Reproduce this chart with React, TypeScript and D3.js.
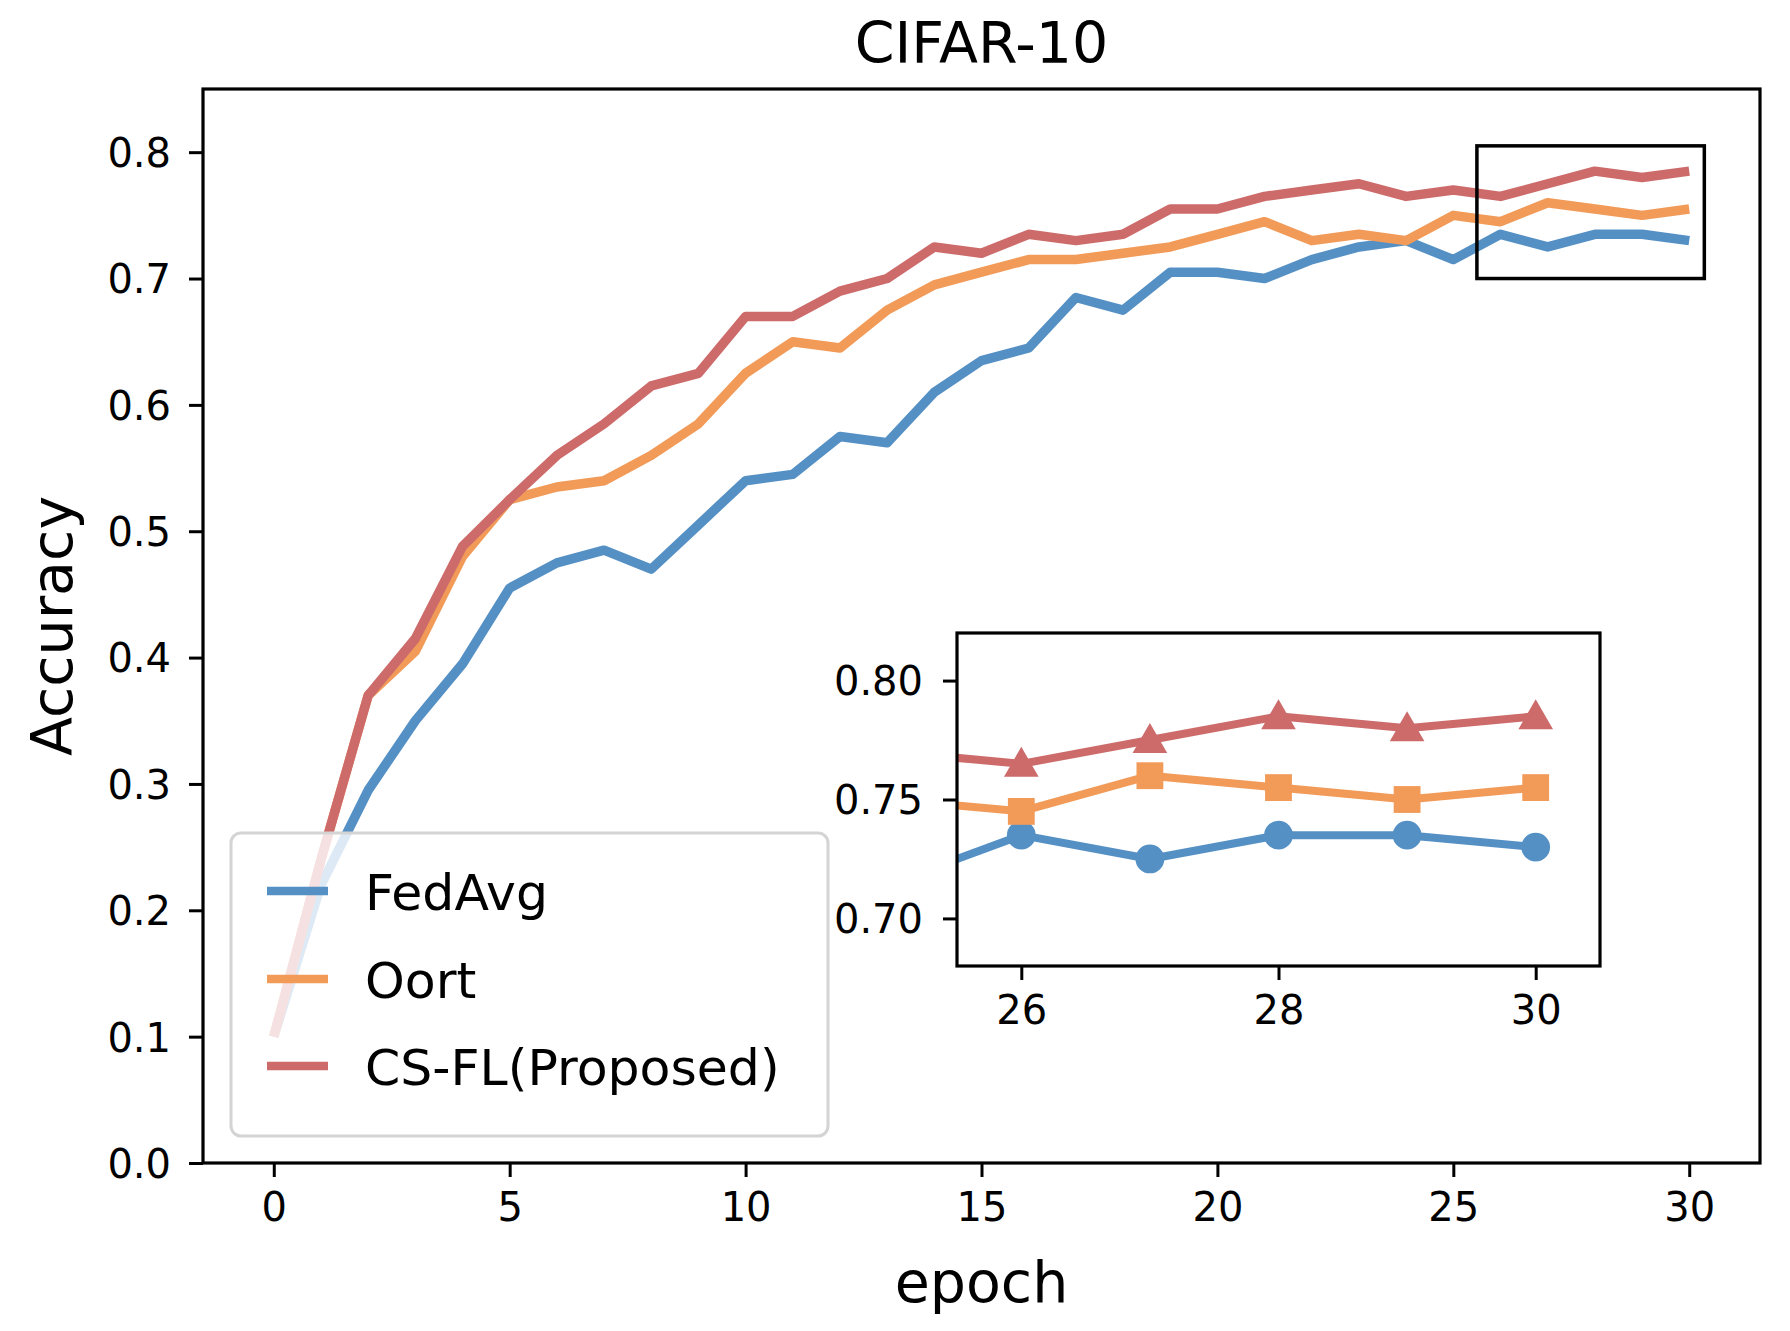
import { useEffect, useRef } from "react";
import * as d3 from "d3";

const epochs = [0, 1, 2, 3, 4, 5, 6, 7, 8, 9, 10, 11, 12, 13, 14, 15, 16, 17, 18, 19, 20, 21, 22, 23, 24, 25, 26, 27, 28, 29, 30];

const fedAvg = [0.10, 0.22, 0.295, 0.35, 0.395, 0.455, 0.475, 0.485, 0.47, 0.505, 0.54, 0.545, 0.575, 0.57, 0.61, 0.635, 0.645, 0.685, 0.675, 0.705, 0.705, 0.70, 0.715, 0.725, 0.73, 0.715, 0.735, 0.725, 0.735, 0.735, 0.73];
const oort = [0.10, 0.24, 0.37, 0.405, 0.48, 0.525, 0.535, 0.54, 0.56, 0.585, 0.625, 0.65, 0.645, 0.675, 0.695, 0.705, 0.715, 0.715, 0.72, 0.725, 0.735, 0.745, 0.73, 0.735, 0.73, 0.75, 0.745, 0.76, 0.755, 0.75, 0.755];
const csfl = [0.10, 0.24, 0.37, 0.415, 0.488, 0.525, 0.56, 0.585, 0.615, 0.625, 0.67, 0.67, 0.69, 0.70, 0.725, 0.72, 0.735, 0.73, 0.735, 0.755, 0.755, 0.765, 0.77, 0.775, 0.765, 0.77, 0.765, 0.775, 0.785, 0.78, 0.785];

const seriesNames = ["FedAvg", "Oort", "CS-FL(Proposed)"];
const seriesColors = ["#5590c5", "#f29a58", "#cd6b6b"];
const seriesMarkers = ["circle", "square", "triangle"];

const xTicks = [0, 5, 10, 15, 20, 25, 30];
const yTicks = [0.0, 0.1, 0.2, 0.3, 0.4, 0.5, 0.6, 0.7, 0.8];
const insetXTicks = [26, 28, 30];
const insetYTicks = [0.70, 0.75, 0.80];

const xDomain = [-1.5, 31.5];
const yDomain = [0, 0.85];
const insetXDomain = [25.5, 30.5];
const insetYDomain = [0.68, 0.82];
const zoomBoxX = [25.5, 30.32];
const zoomBoxY = [0.70, 0.805];

const title = "CIFAR-10";
const xLabel = "epoch";
const yLabel = "Accuracy";

const W = 1790, H = 1331;
const FONT = "DejaVu Sans, sans-serif";

export default function App() {
  const ref = useRef<SVGSVGElement>(null);

  useEffect(() => {
    document.body.style.margin = "0";
    document.body.style.overflow = "hidden";
    const svg = d3.select(ref.current);
    svg.selectAll("*").remove();

    const data = [fedAvg, oort, csfl];

    // main axes box
    const m = { left: 203, right: 1760, top: 89, bottom: 1163 };
    const x = d3.scaleLinear().domain(xDomain).range([m.left, m.right]);
    const y = d3.scaleLinear().domain(yDomain).range([m.bottom, m.top]);

    svg.append("rect").attr("width", W).attr("height", H).attr("fill", "#fff");

    const defs = svg.append("defs");
    defs.append("clipPath").attr("id", "mainClip")
      .append("rect").attr("x", m.left).attr("y", m.top)
      .attr("width", m.right - m.left).attr("height", m.bottom - m.top);

    const line = (sx: any, sy: any) => d3.line<number>()
      .x((_, i) => sx(epochs[i]))
      .y((d) => sy(d));

    const gLines = svg.append("g").attr("clip-path", "url(#mainClip)");
    data.forEach((s, k) => {
      gLines.append("path")
        .attr("d", line(x, y)(s))
        .attr("fill", "none")
        .attr("stroke", seriesColors[k])
        .attr("stroke-width", 9.5)
        .attr("stroke-linejoin", "round");
    });

    // zoom box
    svg.append("rect")
      .attr("x", x(zoomBoxX[0])).attr("y", y(zoomBoxY[1]))
      .attr("width", x(zoomBoxX[1]) - x(zoomBoxX[0]))
      .attr("height", y(zoomBoxY[0]) - y(zoomBoxY[1]))
      .attr("fill", "none").attr("stroke", "#000").attr("stroke-width", 3.5);

    // main axes
    const xAxis = svg.append("g").attr("transform", `translate(0,${m.bottom})`)
      .call(d3.axisBottom(x).tickValues(xTicks).tickSize(14).tickPadding(16).tickFormat(d3.format("d")));
    const yAxis = svg.append("g").attr("transform", `translate(${m.left},0)`)
      .call(d3.axisLeft(y).tickValues(yTicks).tickSize(14).tickPadding(18).tickFormat(d3.format(".1f")));
    [xAxis, yAxis].forEach((g) => {
      g.select(".domain").remove();
      g.selectAll(".tick line").attr("stroke", "#000").attr("stroke-width", 3);
      g.selectAll(".tick text").attr("font-family", FONT).attr("font-size", 40).attr("fill", "#000");
    });
    yAxis.selectAll(".tick text").attr("dy", "0.36em");
    xAxis.selectAll(".tick text").attr("dy", "0.71em");

    svg.append("rect")
      .attr("x", m.left).attr("y", m.top)
      .attr("width", m.right - m.left).attr("height", m.bottom - m.top)
      .attr("fill", "none").attr("stroke", "#000").attr("stroke-width", 3.2);

    // legend
    const lg = svg.append("g");
    lg.append("rect")
      .attr("x", 231).attr("y", 833).attr("width", 597).attr("height", 303)
      .attr("rx", 10)
      .attr("fill", "#fff").attr("fill-opacity", 0.8)
      .attr("stroke", "#d4d4d4").attr("stroke-width", 3);
    const rowY = [891, 979, 1066];
    seriesNames.forEach((name, k) => {
      lg.append("line")
        .attr("x1", 267).attr("x2", 328).attr("y1", rowY[k]).attr("y2", rowY[k])
        .attr("stroke", seriesColors[k]).attr("stroke-width", 8.5);
      lg.append("text")
        .attr("x", 365).attr("y", rowY[k] + 18.5)
        .attr("font-family", FONT).attr("font-size", 50.5).attr("fill", "#000")
        .text(name);
    });

    // inset axes
    const im = { left: 957, right: 1600, top: 633, bottom: 966 };
    const ix = d3.scaleLinear().domain(insetXDomain).range([im.left, im.right]);
    const iy = d3.scaleLinear().domain(insetYDomain).range([im.bottom, im.top]);

    svg.append("rect")
      .attr("x", im.left).attr("y", im.top)
      .attr("width", im.right - im.left).attr("height", im.bottom - im.top)
      .attr("fill", "#fff");
    defs.append("clipPath").attr("id", "insetClip")
      .append("rect").attr("x", im.left).attr("y", im.top)
      .attr("width", im.right - im.left).attr("height", im.bottom - im.top);

    const gi = svg.append("g").attr("clip-path", "url(#insetClip)");
    const symbols: Record<string, any> = {
      circle: d3.symbolCircle,
      square: d3.symbolSquare,
      triangle: d3.symbolTriangle,
    };
    const symSize: Record<string, number> = { circle: 650, square: 720, triangle: 520 };
    data.forEach((s, k) => {
      gi.append("path")
        .attr("d", line(ix, iy)(s))
        .attr("fill", "none")
        .attr("stroke", seriesColors[k])
        .attr("stroke-width", 8)
        .attr("stroke-linejoin", "round");
      const sym = d3.symbol().type(symbols[seriesMarkers[k]]).size(symSize[seriesMarkers[k]]);
      gi.selectAll(null)
        .data(s.map((v, i) => ({ e: epochs[i], v })).filter((p) => p.e >= insetXDomain[0] && p.e <= insetXDomain[1]))
        .enter()
        .append("path")
        .attr("d", sym as any)
        .attr("transform", (p) => `translate(${ix(p.e)},${iy(p.v) + (seriesMarkers[k] === "triangle" ? 3 : 0)})`)
        .attr("fill", seriesColors[k]);
    });

    const ixAxis = svg.append("g").attr("transform", `translate(0,${im.bottom})`)
      .call(d3.axisBottom(ix).tickValues(insetXTicks).tickSize(14).tickPadding(16).tickFormat(d3.format("d")));
    const iyAxis = svg.append("g").attr("transform", `translate(${im.left},0)`)
      .call(d3.axisLeft(iy).tickValues(insetYTicks).tickSize(14).tickPadding(20).tickFormat(d3.format(".2f")));
    [ixAxis, iyAxis].forEach((g) => {
      g.select(".domain").remove();
      g.selectAll(".tick line").attr("stroke", "#000").attr("stroke-width", 3);
      g.selectAll(".tick text").attr("font-family", FONT).attr("font-size", 40).attr("fill", "#000");
    });
    iyAxis.selectAll(".tick text").attr("dy", "0.36em");
    ixAxis.selectAll(".tick text").attr("dy", "0.71em");

    svg.append("rect")
      .attr("x", im.left).attr("y", im.top)
      .attr("width", im.right - im.left).attr("height", im.bottom - im.top)
      .attr("fill", "none").attr("stroke", "#000").attr("stroke-width", 3.2);

    // titles
    svg.append("text")
      .attr("x", (m.left + m.right) / 2).attr("y", 63)
      .attr("text-anchor", "middle")
      .attr("font-family", FONT).attr("font-size", 57).attr("fill", "#000")
      .text(title);
    svg.append("text")
      .attr("x", (m.left + m.right) / 2).attr("y", 1302)
      .attr("text-anchor", "middle")
      .attr("font-family", FONT).attr("font-size", 57).attr("fill", "#000")
      .text(xLabel);
    svg.append("text")
      .attr("transform", `translate(72,${(m.top + m.bottom) / 2}) rotate(-90)`)
      .attr("text-anchor", "middle")
      .attr("font-family", FONT).attr("font-size", 57).attr("fill", "#000")
      .text(yLabel);
  }, []);

  return <svg ref={ref} width={W} height={H} style={{ display: "block" }} />;
}
